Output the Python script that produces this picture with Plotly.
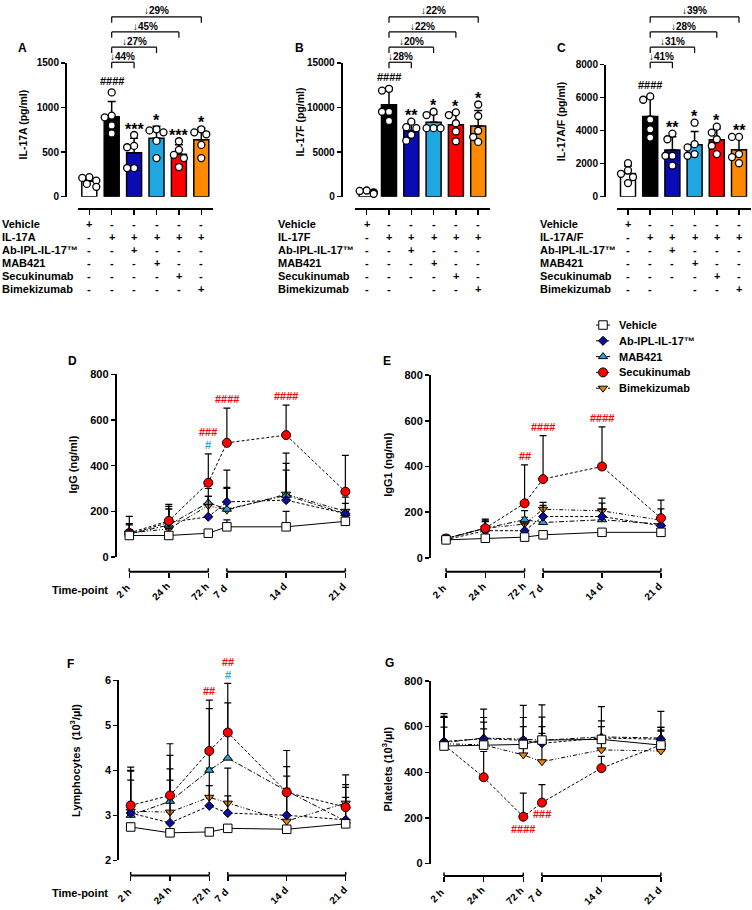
import numpy as np
import plotly.graph_objects as go

W, H = 752, 910
FONT = "Liberation Sans, Arial, Helvetica, sans-serif"

# ===================== DATA : panels A-C (individual mice) =====================
BAR_COLORS = ["#ffffff", "#000000", "#0b0bb5", "#1ea7e1", "#ff0000", "#ff8a00"]

IL17A_VALUES = [
    [219, 211, 181, 144, 111],
    [1170, 910, 890, 800, 710],
    [692, 570, 555, 322, 322],
    [756, 744, 722, 626, 433],
    [622, 526, 470, 433, 333],
    [756, 722, 700, 581, 433],
]
IL17F_VALUES = [
    [700, 650, 500, 420, 330],
    [12100, 11900, 9530, 9530, 8500],
    [8420, 7800, 7690, 6950, 6290],
    [9530, 9160, 7690, 7690, 7690],
    [9460, 9160, 8240, 7320, 6220],
    [10340, 9050, 7400, 6700, 6150],
]
IL17AF_VALUES = [
    [2030, 1590, 1390, 1190, 830],
    [6070, 5870, 4675, 4080, 3580],
    [3820, 3480, 2480, 2480, 1890],
    [4480, 3180, 2985, 2580, 2480],
    [4240, 3880, 3480, 3085, 2580],
    [3620, 3620, 2580, 2400, 2030],
]
SIG_A = ["", "####", "***", "*", "***", "*"]
SIG_B = ["", "####", "**", "*", "*", "*"]
SIG_C = ["", "####", "**", "*", "*", "**"]
PCT_A = ["↓44%", "↓27%", "↓45%", "↓29%"]
PCT_B = ["↓28%", "↓20%", "↓22%", "↓22%"]
PCT_C = ["↓41%", "↓31%", "↓28%", "↓39%"]

ROWS_A = ["Vehicle", "IL-17A", "Ab-IPL-IL-17™", "MAB421", "Secukinumab", "Bimekizumab"]
ROWS_B = ["Vehicle", "IL-17F", "Ab-IPL-IL-17™", "MAB421", "Secukinumab", "Bimekizumab"]
ROWS_C = ["Vehicle", "IL-17A/F", "Ab-IPL-IL-17™", "MAB421", "Secukinumab", "Bimekizumab"]
MARKS_A = [
    ["+", "-", "-", "-", "-", "-"],
    ["-", "+", "+", "+", "+", "+"],
    ["-", "-", "+", "-", "-", "-"],
    ["-", "-", "-", "+", "-", "-"],
    ["-", "-", "-", "-", "+", "-"],
    ["-", "-", "-", "-", "-", "+"],
]
MARKS_BC = [
    ["+", "-", "-", "-", "-", "-"],
    ["-", "+", "+", "+", "+", "+"],
    ["-", "-", "+", "-", "-", "-"],
    ["-", "-", "-", "+", "-", "-"],
    ["-", "-", "-", "-", "+", "-"],
    ["-", "-", "", "-", "-", "+"],
]

# ===================== DATA : panels D-G (mean, SD) =====================
TIME_LABELS = ["2 h", "24 h", "72 h", "7 d", "14 d", "21 d"]
SERIES = ["Vehicle", "Ab-IPL-IL-17™", "MAB421", "Secukinumab", "Bimekizumab"]

IGG_MEAN = [
    [94, 94, 104, 132, 132, 156],
    [100, 151, 176, 241, 249, 190],
    [100, 140, 238, 209, 270, 190],
    [105, 158, 325, 500, 534, 286],
    [105, 123, 225, 205, 275, 200],
]
IGG_SD = [
    [25, 30, 15, 30, 68, 20],
    [45, 71, 89, 139, 161, 45],
    [40, 70, 62, 96, 185, 72],
    [73, 72, 127, 152, 131, 159],
    [40, 87, 40, 95, 105, 5],
]
IGG1_MEAN = [
    [79, 86, 91, 101, 112, 112],
    [80, 119, 119, 181, 181, 141],
    [85, 130, 167, 155, 167, 148],
    [85, 130, 239, 345, 400, 174],
    [85, 130, 148, 213, 206, 165],
]
IGG1_SD = [
    [10, 12, 10, 12, 12, 12],
    [15, 40, 30, 49, 59, 44],
    [12, 30, 40, 30, 45, 67],
    [15, 35, 168, 190, 173, 79],
    [15, 40, 30, 30, 56, 20],
]
LYM_MEAN = [
    [2.74, 2.61, 2.63, 2.71, 2.69, 2.81],
    [3.05, 2.83, 3.21, 3.05, 3.00, 2.90],
    [3.00, 3.31, 4.00, 4.27, 3.54, 2.87],
    [3.22, 3.44, 4.43, 4.84, 3.51, 3.18],
    [3.09, 3.07, 3.40, 3.27, 2.87, 3.27],
]
LYM_SD = [
    [0.08, 0.06, 0.07, 0.08, 0.06, 0.07],
    [0.73, 0.95, 0.45, 0.38, 0.60, 0.78],
    [1.00, 1.02, 1.37, 1.23, 0.54, 0.53],
    [0.85, 1.15, 1.13, 1.09, 0.93, 0.44],
    [0.89, 0.96, 0.65, 0.78, 1.00, 0.63],
]
PLT_MEAN = [
    [515, 519, 522, 541, 544, 519],
    [535, 547, 540, 527, 550, 545],
    [530, 550, 545, 540, 555, 550],
    [520, 378, 205, 267, 418, 520],
    [525, 520, 476, 446, 498, 493],
]
PLT_SD = [
    [142, 158, 171, 154, 144, 148],
    [63, 93, 100, 115, 75, 40],
    [110, 70, 55, 60, 45, 47],
    [120, 113, 104, 79, 52, 77],
    [120, 70, 74, 124, 62, 87],
]
# significance vs vehicle: (time index, [(label, colour key) bottom -> top])
SIG_D = [(2, [("#", "c"), ("###", "r")]), (3, [("####", "r")]), (4, [("####", "r")])]
SIG_E = [(2, [("##", "r")]), (3, [("####", "r")]), (4, [("####", "r")])]
SIG_F = [(2, [("##", "r")]), (3, [("#", "c"), ("##", "r")])]
SIG_G = [(2, [("####", "r")]), (3, [("###", "r")])]

# ===================== styles =====================
SIG_COL = {"r": "#ff0000", "c": "#29a8e0"}
S_SYMBOL = ["square", "diamond", "triangle-up", "circle", "triangle-down"]
S_FILL = ["#ffffff", "#0c0c9c", "#2aa0d6", "#ff0000", "#e8820c"]
S_SIZE = [8.5, 7, 8, 9, 8]
S_DASH = ["solid", "3px,2px", "5px,2px,1.5px,2px", "3px,2px", "4px,2px,1px,2px,1px,2px"]
DRAW_ORDER = [4, 2, 1, 3, 0]
# broken time axis: equal spacing in each segment
TIME_POS = [0, 1, 2, 2.47, 3.97, 5.47]
CHAR_W = {"h": 0.611, "d": 0.611, " ": 0.278}

fig = go.Figure()
layout = {}
annotations = []
shapes = []


def px_x(px):
    return px / W


def px_y(py):
    return 1 - py / H


def txt(px, py, s, size=10, color="black", xa="center", ya="middle", angle=0):
    annotations.append(dict(
        x=px_x(px), y=px_y(py), xref="paper", yref="paper", text=s, showarrow=False,
        xanchor=xa, yanchor=ya, textangle=angle,
        font=dict(family=FONT, size=size, color=color, weight="bold")))


def seg(x1, y1, x2, y2, w=1.2):
    shapes.append(dict(type="line", xref="paper", yref="paper",
                       x0=px_x(x1), y0=px_y(y1), x1=px_x(x2), y1=px_y(y2),
                       line=dict(color="black", width=w)))


def tickfont(size=10):
    return dict(family=FONT, size=size, color="black", weight="bold")


def swarm(vals_px, d=6.8):
    order = np.argsort(-np.asarray(vals_px))
    placed, offs = [], [0.0] * len(vals_px)
    cands = [0, -5, 5, -2.5, 2.5, -7, 7]
    for i in order:
        chosen = cands[-1]
        for c in cands:
            if all((c - ox) ** 2 + (vals_px[i] - oy) ** 2 >= d * d for ox, oy in placed):
                chosen = c
                break
        offs[i] = chosen
        placed.append((chosen, vals_px[i]))
    return offs


def bar_panel(n, values, sig, pct, ylabel, ymax, yticks, yaxis_px, c0, step,
              ybot, ytop, ylab_xy, letter, letter_xy, table_x, rows, marks):
    xr, yr = f"x{n}", f"y{n}"
    xl, xrt = c0 - 11.3, c0 + 5 * step + 11.7
    ppv = (ybot - ytop) / ymax
    means = [float(np.mean(v)) for v in values]
    sds = [float(np.std(v, ddof=1)) for v in values]
    fig.add_trace(go.Bar(
        x=list(range(6)), y=means, width=15 / step,
        marker=dict(color=BAR_COLORS, line=dict(color="black", width=1.5)),
        error_y=dict(type="data", array=sds, arrayminus=[0] * 6, symmetric=False,
                     color="black", thickness=1.5, width=4),
        xaxis=xr, yaxis=yr, showlegend=False, hoverinfo="skip"))
    xs, ys = [], []
    for g, v in enumerate(values):
        offs = swarm([val * ppv for val in v])
        xs += [g + o / step for o in offs]
        ys += list(v)
    fig.add_trace(go.Scatter(
        x=xs, y=ys, mode="markers",
        marker=dict(size=7, color="white", line=dict(color="black", width=1.3)),
        xaxis=xr, yaxis=yr, showlegend=False, cliponaxis=False, hoverinfo="skip"))
    layout[f"xaxis{n}"] = dict(
        domain=[px_x(xl), px_x(xrt)], range=[(xl - c0) / step, (xrt - c0) / step],
        anchor="free", position=px_y(206), showline=True, linewidth=2, linecolor="black",
        ticks="outside", ticklen=5, tickwidth=1.5, tickcolor="black",
        tickvals=list(range(6)), showticklabels=False, showgrid=False, zeroline=False)
    layout[f"yaxis{n}"] = dict(
        domain=[px_y(ybot), px_y(ytop)], range=[0, ymax], anchor="free",
        position=px_x(yaxis_px), showline=True, linewidth=2, linecolor="black",
        ticks="outside", ticklen=4, tickwidth=1.5, tickcolor="black",
        tickvals=yticks, tickformat="d", showgrid=False, zeroline=False,
        tickfont=tickfont(10))
    for g in range(6):
        if sig[g]:
            top = max(max(values[g]), means[g] + sds[g])
            ypx = ybot - top * ppv
            if sig[g].startswith("#"):
                txt(c0 + g * step, ypx - 12, sig[g], size=11)
            else:
                txt(c0 + g * step, ypx - 6, sig[g], size=16)
    br_y = [57, 41.7, 26.3, 11]
    for k, lab in enumerate(pct):
        x1, x2, yb = c0 + step, c0 + step * (2 + k), br_y[k]
        seg(x1, yb + 6, x1, yb)
        seg(x1, yb, x2, yb)
        seg(x2, yb, x2, yb + 6)
        txt((x1 + x2) / 2, yb - 6, lab, size=10)
    txt(ylab_xy[0], ylab_xy[1], ylabel, size=10.5, angle=-90)
    txt(letter_xy[0], letter_xy[1], letter, size=12)
    for r, row in enumerate(rows):
        yy = 220.7 + 13.3 * r
        txt(table_x, yy, row, size=11, xa="left")
        for g, m in enumerate(marks[r]):
            if m:
                txt(c0 + g * step, yy, m, size=11)


def line_panel(n, means, sds, ymin, ymax, yticks, yaxis_px, x0, unit, ybot, ytop,
               axis_y, ylabel, ylab_xy, letter, letter_xy, sig, below, tp_label):
    xr, yr = f"x{n}", f"y{n}"
    xl, xrt = yaxis_px, x0 + TIME_POS[-1] * unit + 16
    ppv = (ybot - ytop) / (ymax - ymin)
    layout[f"xaxis{n}"] = dict(
        domain=[px_x(xl), px_x(xrt)], range=[(xl - x0) / unit, (xrt - x0) / unit],
        anchor="free", position=px_y(axis_y), showline=False,
        ticks="outside", ticklen=5, tickwidth=1.5, tickcolor="black",
        tickvals=TIME_POS, showticklabels=False,
        showgrid=False, zeroline=False)
    layout[f"yaxis{n}"] = dict(
        domain=[px_y(ybot), px_y(ytop)], range=[ymin, ymax], anchor=xr,
        showline=True, linewidth=2, linecolor="black",
        ticks="outside", ticklen=4, tickwidth=1.5, tickcolor="black",
        tickvals=yticks, showgrid=False, zeroline=False, tickfont=tickfont(11))
    for s in DRAW_ORDER:
        fig.add_trace(go.Scatter(
            x=TIME_POS, y=means[s], mode="lines+markers", name=SERIES[s],
            line=dict(color="black", width=1, dash=S_DASH[s]),
            marker=dict(symbol=S_SYMBOL[s], size=S_SIZE[s], color=S_FILL[s],
                        line=dict(color="black", width=1)),
            error_y=dict(type="data", array=sds[s], arrayminus=[0] * 6, symmetric=False,
                         color="black", thickness=1.2, width=3.5),
            xaxis=xr, yaxis=yr, showlegend=False, cliponaxis=False, hoverinfo="skip"))
    pxof = lambda p: x0 + p * unit
    seg(pxof(TIME_POS[0]), axis_y, pxof(TIME_POS[2]), axis_y, w=2)
    seg(pxof(TIME_POS[3]), axis_y, pxof(TIME_POS[5]), axis_y, w=2)
    for i in (0, 2, 3, 5):
        seg(pxof(TIME_POS[i]), axis_y - 3.5, pxof(TIME_POS[i]), axis_y, w=1.5)
    # rotated time tick labels
    for p, lab in zip(TIME_POS, TIME_LABELS):
        L = sum(CHAR_W.get(ch, 0.556) for ch in lab) * 10
        txt(pxof(p) - 3 - 0.25 * L, axis_y + 20, lab, size=10, angle=-45)
    for ti, items in sig:
        if below:
            ypx = ybot - (means[3][ti] - ymin) * ppv + 12
            for k, (lab, c) in enumerate(items):
                txt(pxof(TIME_POS[ti]), ypx + 13 * k, lab, size=11, color=SIG_COL[c])
        else:
            top = max(means[s][ti] + sds[s][ti] for s in range(5))
            ypx = ybot - (top - ymin) * ppv - 9
            for k, (lab, c) in enumerate(items):
                txt(pxof(TIME_POS[ti]), ypx - 13 * k, lab, size=11, color=SIG_COL[c])
    txt(ylab_xy[0], ylab_xy[1], ylabel, size=11, angle=-90)
    txt(letter_xy[0], letter_xy[1], letter, size=12)
    if tp_label:
        txt(79.7, axis_y + 18, "Time-point", size=11)


bar_panel(1, IL17A_VALUES, SIG_A, PCT_A, "IL-17A (pg/ml)", 1500, [0, 500, 1000, 1500],
          66, 89.3, 22.4, 193.3, 57.7, (23, 120), "A", (22.7, 42.7), 0, ROWS_A, MARKS_A)
bar_panel(2, IL17F_VALUES, SIG_B, PCT_B, "IL-17F (pg/ml)", 15000, [0, 5000, 10000, 15000],
          341.7, 366.7, 22.3, 193.3, 57.7, (300, 118), "B", (299, 42.7), 276, ROWS_B, MARKS_BC)
bar_panel(3, IL17AF_VALUES, SIG_C, PCT_C, "IL-17A/F (pg/ml)", 8000, [0, 2000, 4000, 6000, 8000],
          605, 628, 22.2, 193.3, 59.3, (561.7, 117), "C", (561.7, 43), 538, ROWS_C, MARKS_BC)

line_panel(4, IGG_MEAN, IGG_SD, 0, 800, [0, 200, 400, 600, 800], 116.7, 129.3, 39.5,
           558.3, 373.3, 573.3, "IgG (ng/ml)", (72.7, 465), "D", (72.7, 360), SIG_D, False, True)
line_panel(5, IGG1_MEAN, IGG1_SD, 0, 800, [0, 200, 400, 600, 800], 431, 446, 39.3,
           559.3, 374, 573.3, "IgG1 (ng/ml)", (388, 465), "E", (386.7, 360), SIG_E, False, False)
line_panel(6, LYM_MEAN, LYM_SD, 2, 6, [2, 3, 4, 5, 6], 119.3, 130.7, 39.3,
           865.7, 683.3, 881, "Lymphocytes  (10<sup>3</sup>/µl)", (75, 765), "F", (70, 666.7),
           SIG_F, False, True)
line_panel(7, PLT_MEAN, PLT_SD, 0, 800, [0, 200, 400, 600, 800], 430.7, 444, 39.65,
           869, 684, 881.7, "Platelets (10<sup>3</sup>/µl)", (386.7, 773), "G", (390, 666),
           SIG_G, True, False)

# ---- legend (drawn on a hidden pixel-scaled axis) ----
layout["xaxis8"] = dict(domain=[px_x(590), px_x(616)], range=[590, 616], visible=False,
                        anchor="y8", fixedrange=True)
layout["yaxis8"] = dict(domain=[px_y(396), px_y(314)], range=[396, 314], visible=False,
                        anchor="x8", fixedrange=True)
for i, s in enumerate(range(5)):
    yy = 323.3 + 16 * i
    fig.add_trace(go.Scatter(x=[596, 610], y=[yy, yy], mode="lines",
                             line=dict(color="black", width=1, dash=S_DASH[s]),
                             xaxis="x8", yaxis="y8", showlegend=False, hoverinfo="skip"))
    fig.add_trace(go.Scatter(x=[603], y=[yy], mode="markers",
                             marker=dict(symbol=S_SYMBOL[s], size=S_SIZE[s], color=S_FILL[s],
                                         line=dict(color="black", width=1)),
                             xaxis="x8", yaxis="y8", showlegend=False, hoverinfo="skip"))
    txt(616.7, yy, SERIES[s], size=11, xa="left")

fig.update_layout(
    width=W, height=H, autosize=False,
    margin=dict(l=0, r=0, t=0, b=0),
    paper_bgcolor="white", plot_bgcolor="rgba(0,0,0,0)",
    font=dict(family=FONT, size=10, color="black", weight="bold"),
    showlegend=False, bargap=0, hovermode=False,
    annotations=annotations, shapes=shapes, **layout)

fig.write_html("out.html", config={"displayModeBar": False, "staticPlot": True},
               post_script="document.body.style.margin='0px';")
